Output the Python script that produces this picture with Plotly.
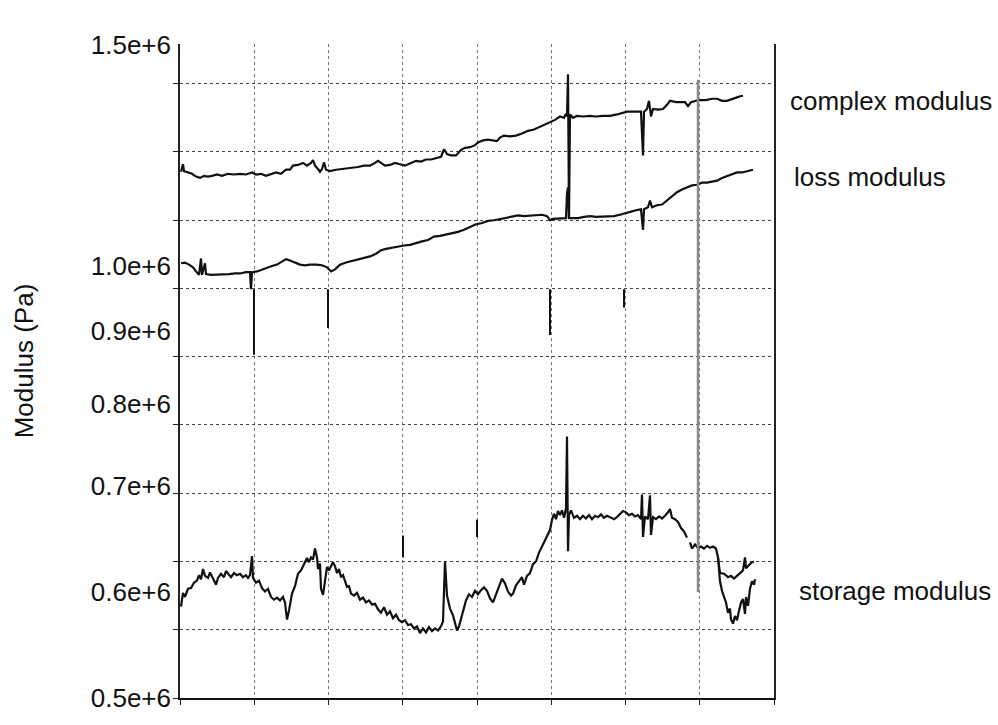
import plotly.graph_objects as go

# Time axis (s) and moduli (MPa) for the three traces
complex_t = [1, 3, 4, 8, 12, 16, 20, 24, 28, 32, 37, 42, 48, 54, 60, 66, 72, 76, 81, 86,
             91, 96, 101, 106, 110, 113, 118, 123, 127, 131, 133, 135, 138, 140, 142, 144,
             146, 150, 156, 161, 166, 172, 178, 184, 190, 195, 198, 201, 205, 210, 215, 220,
             225, 231, 236, 241, 246, 251, 256, 261, 264, 267, 271, 276, 281, 285, 290, 295,
             298, 303, 308, 313, 317, 320, 324, 330, 336, 342, 348, 354, 360, 365, 370, 375,
             380, 384, 386, 387, 388, 389, 390, 393, 397, 403, 410, 416, 423, 430, 437, 442,
             447, 452, 457, 461, 463, 464, 467, 469, 471, 473, 478, 483, 487, 490, 496, 501,
             505, 508, 511, 516, 520, 526, 532, 537, 542, 547, 552, 557, 561, 563]
complex_mpa = [1.271, 1.282, 1.272, 1.270, 1.268, 1.264, 1.262, 1.265, 1.264, 1.265, 1.267,
               1.265, 1.268, 1.267, 1.268, 1.267, 1.270, 1.267, 1.268, 1.265, 1.268, 1.270,
               1.268, 1.274, 1.274, 1.280, 1.281, 1.284, 1.280, 1.284, 1.288, 1.280, 1.275,
               1.271, 1.275, 1.285, 1.274, 1.272, 1.274, 1.275, 1.275, 1.277, 1.278, 1.280,
               1.280, 1.284, 1.287, 1.284, 1.280, 1.281, 1.284, 1.282, 1.280, 1.284, 1.287,
               1.286, 1.289, 1.289, 1.291, 1.293, 1.304, 1.297, 1.295, 1.295, 1.303, 1.306,
               1.307, 1.310, 1.314, 1.317, 1.318, 1.317, 1.316, 1.321, 1.324, 1.323, 1.324,
               1.327, 1.331, 1.333, 1.337, 1.340, 1.344, 1.347, 1.352, 1.350, 1.356, 1.352,
               1.414, 1.202, 1.355, 1.350, 1.353, 1.352, 1.353, 1.352, 1.353, 1.353, 1.355,
               1.357, 1.359, 1.359, 1.359, 1.359, 1.295, 1.359, 1.363, 1.375, 1.352, 1.363,
               1.362, 1.363, 1.369, 1.375, 1.373, 1.373, 1.373, 1.367, 1.373, 1.375, 1.376,
               1.376, 1.378, 1.378, 1.375, 1.375, 1.378, 1.380, 1.382, 1.382]

loss_t = [1, 5, 9, 13, 16, 19, 21, 22, 25, 26, 31, 37, 43, 49, 55, 60, 66, 70, 71, 72, 77,
          82, 87, 92, 97, 102, 106, 110, 115, 120, 125, 130, 136, 142, 147, 151, 155, 160,
          166, 172, 178, 184, 190, 196, 201, 206, 212, 218, 224, 230, 236, 242, 248, 254,
          260, 266, 272, 278, 284, 290, 296, 302, 308, 314, 320, 326, 332, 338, 344, 350,
          356, 362, 367, 370, 373, 377, 382, 386, 387, 388, 389, 393, 398, 404, 410, 416,
          422, 428, 434, 440, 446, 452, 457, 461, 463, 464, 468, 470, 472, 477, 482, 487,
          492, 497, 502, 507, 512, 517, 522, 527, 532, 537, 542, 547, 552, 557, 562, 567,
          571, 573]
loss_mpa = [1.137, 1.138, 1.135, 1.131, 1.125, 1.120, 1.144, 1.120, 1.137, 1.121, 1.120,
            1.120, 1.121, 1.121, 1.122, 1.122, 1.124, 1.124, 1.099, 1.124, 1.125, 1.128,
            1.130, 1.133, 1.135, 1.140, 1.143, 1.141, 1.138, 1.135, 1.134, 1.135, 1.135,
            1.134, 1.131, 1.125, 1.128, 1.135, 1.138, 1.140, 1.143, 1.144, 1.147, 1.151,
            1.156, 1.158, 1.160, 1.161, 1.163, 1.164, 1.167, 1.169, 1.171, 1.176, 1.177,
            1.179, 1.180, 1.183, 1.186, 1.190, 1.194, 1.196, 1.199, 1.200, 1.202, 1.203,
            1.205, 1.207, 1.206, 1.207, 1.208, 1.208, 1.206, 1.200, 1.202, 1.202, 1.203,
            1.203, 1.239, 1.248, 1.203, 1.203, 1.203, 1.205, 1.206, 1.205, 1.205, 1.205,
            1.206, 1.208, 1.210, 1.213, 1.215, 1.216, 1.186, 1.216, 1.219, 1.229, 1.219,
            1.222, 1.223, 1.229, 1.235, 1.241, 1.245, 1.248, 1.251, 1.252, 1.255, 1.255,
            1.257, 1.258, 1.262, 1.265, 1.267, 1.270, 1.270, 1.272, 1.274, 1.274]

# Storage modulus: the run splits into two branches near the end (None = break)
storage_t = [1, 3, 5, 8, 11, 14, 17, 19, 21, 23, 25, 28, 30, 32, 34, 36, 38, 41, 44, 46, 49,
             51, 54, 57, 60, 63, 66, 68, 70, 72, 73, 76, 79, 82, 85, 88, 91, 94, 97, 100, 103,
             105, 107, 109, 112, 115, 118, 121, 124, 127, 129, 131, 133, 135, 137, 138, 140,
             141, 143, 145, 147, 149, 151, 153, 155, 157, 159, 161, 163, 165, 167, 169, 171,
             174, 177, 180, 183, 186, 189, 192, 195, 198, 201, 204, 207, 210, 213, 216, 219,
             222, 225, 228, 231, 234, 237, 240, 243, 246, 249, 252, 255, 258, 261, 263, 265,
             267, 270, 273, 275, 277, 279, 281, 283, 286, 289, 292, 295, 298, 301, 304, 307,
             310, 313, 316, 319, 322, 325, 328, 331, 333, 336, 339, 342, 344, 347, 350, 353,
             356, 359, 362, 365, 368, 370, 372, 374, 376, 378, 380, 382, 384, 386, 387, 388,
             389, 391, 394, 397, 400, 403, 406, 409, 412, 415, 418, 421, 424, 427, 430, 434,
             437, 440, 443, 446, 449, 452, 455, 458, 461, 462, 463, 465, 468, 470, 471, 473,
             476, 479, 482, 485, 488, 490, 492, 495, 498, 501, 504, 507, None,
             510, 512, 515, 518, 521, 524, 527, 530, 533, 536, 538, 540, 544, 548, 551, 554,
             557, 560, 563, 565, 566, 569, 572, 574, None,
             538, 540, 542, 544, 546, 548, 550, 551, 553, 555, 557, 559, 561, 563, 565, 566,
             568, 570, 572, 574, 575]
storage_mpa = [0.634, 0.654, 0.648, 0.660, 0.661, 0.669, 0.672, 0.680, 0.674, 0.689, 0.679,
               0.676, 0.684, 0.677, 0.672, 0.666, 0.676, 0.682, 0.677, 0.686, 0.680, 0.677,
               0.683, 0.680, 0.682, 0.677, 0.680, 0.676, 0.680, 0.708, 0.676, 0.669, 0.672,
               0.661, 0.656, 0.660, 0.648, 0.644, 0.647, 0.643, 0.648, 0.640, 0.615, 0.628,
               0.653, 0.664, 0.682, 0.687, 0.696, 0.705, 0.699, 0.706, 0.703, 0.719, 0.706,
               0.689, 0.697, 0.660, 0.651, 0.676, 0.692, 0.687, 0.693, 0.699, 0.693, 0.683,
               0.689, 0.677, 0.680, 0.672, 0.663, 0.664, 0.653, 0.650, 0.654, 0.644, 0.647,
               0.640, 0.643, 0.637, 0.638, 0.630, 0.625, 0.633, 0.622, 0.627, 0.617, 0.622,
               0.614, 0.611, 0.614, 0.607, 0.608, 0.602, 0.605, 0.595, 0.602, 0.596, 0.604,
               0.598, 0.602, 0.599, 0.605, 0.612, 0.700, 0.650, 0.631, 0.621, 0.611, 0.599,
               0.605, 0.617, 0.628, 0.643, 0.652, 0.648, 0.657, 0.652, 0.658, 0.662, 0.657,
               0.646, 0.640, 0.651, 0.663, 0.675, 0.668, 0.656, 0.650, 0.653, 0.665, 0.672,
               0.677, 0.666, 0.679, 0.683, 0.696, 0.700, 0.713, 0.722, 0.732, 0.741, 0.746,
               0.761, 0.770, 0.762, 0.774, 0.768, 0.775, 0.764, 0.778, 0.883, 0.715, 0.768,
               0.775, 0.764, 0.767, 0.762, 0.767, 0.763, 0.768, 0.762, 0.767, 0.765, 0.769,
               0.764, 0.767, 0.765, 0.762, 0.765, 0.770, 0.774, 0.772, 0.768, 0.770, 0.766,
               0.768, 0.762, 0.798, 0.736, 0.766, 0.762, 0.797, 0.739, 0.765, 0.762, 0.766,
               0.763, 0.767, 0.772, 0.777, 0.764, 0.762, 0.758, 0.749, 0.744, 0.735, None,
               0.728, 0.719, 0.725, 0.720, 0.722, 0.719, 0.723, 0.720, 0.722, 0.719, 0.706,
               0.683, 0.682, 0.677, 0.679, 0.675, 0.679, 0.683, 0.687, 0.706, 0.690, 0.695,
               0.699, 0.700, None,
               0.706, 0.671, 0.657, 0.648, 0.640, 0.625, 0.631, 0.615, 0.609, 0.620, 0.614,
               0.628, 0.640, 0.645, 0.623, 0.648, 0.635, 0.660, 0.671, 0.666, 0.674]

# Short transient strokes recorded off the main traces
glitch_t = [74, 74, None, 148, 148, None, 370, 370, None, 444, 444, None,
            223, 223, None, 297, 297]
glitch_mpa = [1.099, 1.003, None, 1.099, 1.042, None, 1.099, 1.032, None, 1.099, 1.072, None,
              0.738, 0.706, None, 0.761, 0.736]
marker_t = [518, 518]
marker_mpa = [1.406, 0.655]

# Axis layout values
T_MAX = 594
T_STEP = 74.25
Y_MIN_MPA = 0.5
Y_MAX_MPA = 1.4582
Y_STEP_MPA = 0.1
label_pos_mpa = [1.4575, 1.1338, 1.0372, 0.931, 0.8104, 0.656, 0.5005]
label_text = ["1.5e+6", "1.0e+6", "0.9e+6", "0.8e+6", "0.7e+6", "0.6e+6", "0.5e+6"]

series_names = ["complex modulus", "loss modulus", "storage modulus"]
series_label_mpa = [1.3746, 1.2636, 0.657]
# left edge of each series label, as a fraction of the plot width
series_label_x = [1.0236, 1.0303, 1.0387]

PA = 1e6
FONT = "Liberation Sans, Arial, sans-serif"
FONT_SIZE = 26


def pa(values):
    return [None if v is None else v * PA for v in values]


fig = go.Figure()
line_style = dict(color="#111111", width=2.2)
fig.add_trace(go.Scatter(x=complex_t, y=pa(complex_mpa), mode="lines", line=line_style,
                         name=series_names[0], showlegend=False))
fig.add_trace(go.Scatter(x=loss_t, y=pa(loss_mpa), mode="lines", line=line_style,
                         name=series_names[1], showlegend=False))
fig.add_trace(go.Scatter(x=storage_t, y=pa(storage_mpa), mode="lines", line=line_style,
                         name=series_names[2], showlegend=False, connectgaps=False))
fig.add_trace(go.Scatter(x=glitch_t, y=pa(glitch_mpa), mode="lines",
                         line=dict(color="#111111", width=2), showlegend=False,
                         connectgaps=False))
fig.add_trace(go.Scatter(x=marker_t, y=pa(marker_mpa), mode="lines",
                         line=dict(color="#8a8a8a", width=2.5), showlegend=False))
# invisible trace that carries the labelled axis
fig.add_trace(go.Scatter(x=[0], y=[Y_MIN_MPA * PA], yaxis="y2", mode="markers",
                         marker=dict(opacity=0), showlegend=False, hoverinfo="skip"))

for name, ypos, xpos in zip(series_names, series_label_mpa, series_label_x):
    fig.add_annotation(text=name, xref="paper", x=xpos, xanchor="left",
                       yref="y", y=ypos * PA, yanchor="middle", showarrow=False,
                       font=dict(family=FONT, size=FONT_SIZE, color="#111111"))

fig.add_annotation(text="Modulus (Pa)", textangle=-90, xref="paper", x=-0.263,
                   xanchor="center", yref="paper", y=0.516, yanchor="middle",
                   showarrow=False, font=dict(family=FONT, size=FONT_SIZE, color="#111111"))

fig.update_layout(
    width=998, height=725,
    margin=dict(l=180, r=224, t=44, b=16),
    paper_bgcolor="white", plot_bgcolor="white",
    xaxis=dict(range=[0, T_MAX], tick0=0, dtick=T_STEP, showticklabels=False,
               ticks="outside", ticklen=5, tickcolor="#222", tickwidth=1,
               showgrid=True, gridcolor="#777777", griddash="dot", gridwidth=1,
               showline=True, linecolor="#111111", linewidth=2, zeroline=False),
    yaxis=dict(range=[Y_MIN_MPA * PA, Y_MAX_MPA * PA], tick0=Y_MIN_MPA * PA,
               dtick=Y_STEP_MPA * PA, showticklabels=False, ticks="outside",
               ticklen=5, tickcolor="#222", showgrid=True, gridcolor="#444444",
               griddash="dot", gridwidth=1, showline=True, linecolor="#222222",
               linewidth=2, mirror=True, zeroline=False),
    yaxis2=dict(overlaying="y", side="left", range=[Y_MIN_MPA * PA, Y_MAX_MPA * PA],
                tickmode="array", tickvals=pa(label_pos_mpa), ticktext=label_text,
                showgrid=False, zeroline=False, ticks="", ticklabelstandoff=8,
                tickfont=dict(family=FONT, size=FONT_SIZE, color="#111111"),
                showline=False),
)

fig.write_html("out.html")
